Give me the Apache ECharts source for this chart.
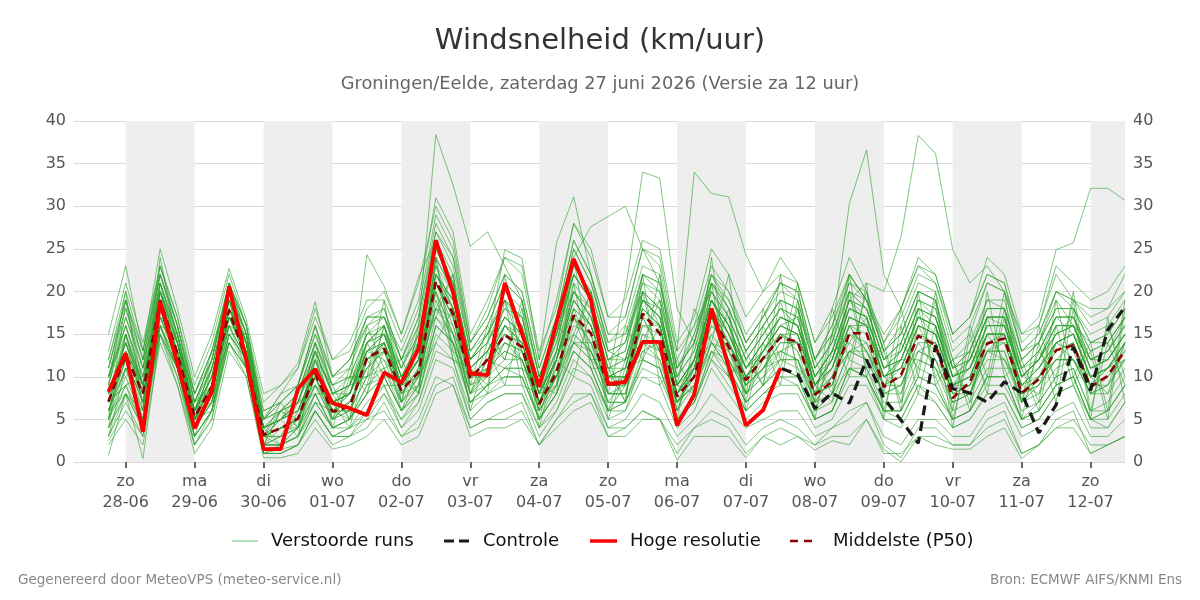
<!DOCTYPE html>
<html><head><meta charset="utf-8">
<script src="https://cdn.jsdelivr.net/npm/echarts@6/dist/echarts.min.js"></script>
<style>html,body{margin:0;padding:0;background:#fff}#c{width:1200px;height:600px}</style>
</head><body><div id="c"></div>
<script>
// time axis in hours since 27-06 00:00
const stepHours = [18,24,30,36,42,48,54,60,66,72,78,84,90,96,102,108,114,120,126,132,138,144,150,156,162,168,174,180,186,192,198,204,210,216,222,228,234,240,246,252,258,264,270,276,282,288,294,300,306,312,318,324,330,336,342,348,354,360,366,372];
const dayHours = [24,48,72,96,120,144,168,192,216,240,264,288,312,336,360];
const dayNames = ['zo','ma','di','wo','do','vr','za','zo','ma','di','wo','do','vr','za','zo'];
const dayDates = ['28-06','29-06','30-06','01-07','02-07','03-07','04-07','05-07','06-07','07-07','08-07','09-07','10-07','11-07','12-07'];
const shadedDays = [24,72,120,168,216,264,312,360];
const legendNames = ['Verstoorde runs','Controle','Hoge resolutie','Middelste (P50)'];

const hres = [8.25,12.75,3.55,18.8,11.6,3.95,8.25,20.6,12,1.5,1.5,8.6,10.9,6.9,6.3,5.5,10.5,9.3,13.3,26.0,19.9,10.4,10.2,21.0,15.1,8.8,16.3,23.8,19.0,9.15,9.4,14.1,14.1,4.3,7.9,18.0,11.2,4.3,6.1,11.0];
const control = [8.25,12.75,3.55,18.8,11.6,3.95,8.25,20.6,12,1.5,1.5,8.6,10.9,6.9,6.3,5.5,10.5,9.3,13.3,26.0,19.9,10.4,10.2,21.0,15.1,8.8,16.3,23.8,19.0,9.15,9.4,14.1,14.1,4.3,7.9,18.0,11.2,4.3,6.1,11.0,10.3,6.3,8.1,6.9,12.0,7.5,4.9,2.2,13.7,8.6,8.1,7.0,9.4,8.1,3.4,6.7,13.5,8.4,15.5,18.2];
const median = [7.1,12.55,8.05,19.0,12.75,5.3,8.8,17.8,12,3.2,3.95,5.1,10.4,5.9,6.5,12.2,13.3,8.4,10.5,21.2,17.4,9.8,12,14.9,13.5,6.8,10.5,17.2,15.1,8.9,9.4,17.4,15.1,7.7,10.0,17.4,13.5,9.6,12.2,14.6,14.1,7.9,9.4,15.1,15.1,8.8,10.2,14.8,13.7,7.5,9.4,13.9,14.5,8.1,9.7,13.1,13.7,8.8,10.1,13.1];

const run01 = [10,16,9,20,14,6,10,19,14,4,5,7,12,7,8, 13,15,9,12,24,20,11,13,17,15,8,12,20,17,10, 11,19,17,9,12,19,16,11,14,17,16,10,13,19,21, 20,26.4,38.3,36.2,24.9,21,23,20,15,17,24.9,25.7,32.1,32.1,30.7];
const run02 = [8,14,9,21,15,7,11,20,15,4,6,8,14,8,9, 15,17,11,16,38.4,32.5,25.3,27,23,19,10,15,22,19,12, 14,22,20,10,15,21,18,13,16,19,18,12,15,20,18, 12,14,19,17,10,12,17,16,11,12,17,15,12,13,17];
const run03 = [6,12,7,18,13,5,8,17,13,3,4,5,10,6,7, 12,13,8,10,21,17,10,12,15,14,7,12,18,16,10, 20,34,33.3,18,14,22,20,14,17,21,19,11,14,22,19, 13,15,20,19,11,13,18,18,12,14,19,16,14,15,18];
const run04 = [9,17,11,22,16,7,12,21,16,5,7,9,15,10,12, 17,18,12,17,28,24,14,17,22,20,11,17,26,22,15, 17,25,24,13,34,31.5,31.1,24.3,20,22,21,14,17,22,19, 15,18,23,22,15,17,22,21,14,16,22,19,18,18,20];
const run05 = [7,13,8,19,13,5,9,18,14,3,4,5,10,6,6, 12,14,8,11,22,18,10,12,16,14,7,11,17,15,9, 9,18,16,8,11,18,14,10,12,15,14,8,15,30.3,36.6, 22,18,24,22,15,17,22,21,13,15,20,19,17,18,22];
const run06 = [0.8,8,0.4,15,10,2,6,14,11,1,1,2,6,3,3, 5,8,4,6,12,11,5,7,8,8,3,6,10,9,4, 5,8,7,3,5,8,6,4,5,6,6,3,4,6,7, 3,2,5,5,3,3,6,7,3,4,6,7,3,3,5];
const run07 = [3,7,3,16,11,3,6,15,12,1,1,2,5,2,3, 4,7,3,5,10,9,4,5,6,7,2,5,7,8,3, 3,5,5,1,4,6,5,2,4,5,4,2,4,5,7, 2,0.5,4,4,2,2,5,6,1,2,5,6,1,2,3];
const run08 = [7,9,11,17,14,6,7,20,12,2,6,4,13,4,10, 9,16,7,14,17,22,8,14,12,18,5,13,15,20,6, 12,14,19,6,12,15,17,7,16,11,18,6,13,14,17, 6,14,11,19,5,13,9,18,7,13,10,19,6,14,9];
const run09 = [10,17,11,21,14,6,11,19,14,4,5,7,13,8,9, 14,16,10,14,25,21,12,14,19,16,9,14,22,19,12, 13,21,20,10,13,21,17,12,15,18,17,10,13,19,18, 12,14,19,18,11,13,18,18,11,13,17,17,13,14,17];
const run10 = [5,10,5,17,12,4,7,16,12,2,2,4,8,4,5, 8,10,6,8,16,14,7,9,10,10,5,8,13,11,6, 7,11,10,5,7,12,9,6,8,9,9,5,6,10,10, 5,5,9,8,5,6,9,9,5,6,9,10,5,5,8];
const run11 = [12,20,13,23,16,8,13,21,15,6,7,9,16,10,12, 17,17,13,18,29,25,14,17,22,20,11,17,26,22,15, 15,20,16,7,9,14,11,7,9,11,10,6,8,11,10, 6,5,9,7,4,5,8,8,4,5,8,9,5,4,7];
const run12 = [3,8,4,16,11,3,6,15,12,1,2,3,6,3,4, 6,8,5,7,14,12,6,8,9,9,4,7,12,10,6, 9,17,19,11,14,21,19,14,17,21,20,12,16,21,20, 14,18,23,21,15,17,24,22,15,16,23,21,19,20,23];
const run13 = [10,12,6,21,12,4,11,16,15,3,3,7,8,8,5, 14,10,10,8,24,13,11,9,19,9,8,9,21,11,11, 7,20,11,9,8,21,10,12,9,19,11,9,7,20,11, 13,7,18,10,12,6,17,11,11,6,16,9,13,5,18];
const run14 = [6,11,6,18,12,4,8,17,13,2,3,4,9,5,6, 13,14,9,12,22,19,11,13,16,15,8,12,19,16,10, 10,19,17,9,11,19,15,11,13,16,15,9,11,17,16, 10,11,16,15,9,10,15,15,9,11,14,15,10,11,14];
const run15 = [4,15,7,16,15,5,6,18,12,4,2,6,11,7,4, 12,9,9,10,14,18,6,13,9,16,4,12,10,18,5, 11,12,16,5,14,12,18,6,14,9,19,5,15,10,21, 5,16,8,16,4,15,8,17,5,14,7,18,5,17,7];
const run16 = [11,18,12,22,15,7,12,20,15,5,6,8,14,9,10, 15,15,11,15,26,22,13,15,20,18,10,15,23,20,13, 12,20,18,9,12,20,16,11,14,17,16,9,12,18,17, 11,12,17,16,10,11,16,16,10,12,16,16,11,12,15];
const run17 = [8,12,7,19,13,5,9,18,13,3,4,5,11,6,7, 11,14,8,11,21,17,9,11,14,13,7,10,17,14,9, 9,16,15,7,10,17,13,9,11,14,14,8,9,15,14, 9,10,15,14,8,9,14,14,8,10,13,14,9,10,13];
const run18 = [5,19,9,20,12,6,13,20,12,5,8,11,17,12,13, 18,20,15,21,30,26,14,18,24,23,13,18,28,24,17, 19,26,25,14,17,25,22,17,20,24,21,14,18,24,20, 13,16,21,20,13,15,21,20,13,14,20,18,15,16,19];
const run19 = [2.5,6,3,15,11,2,5,15,11,1,1,2,6,3,3, 6,9,4,7,13,12,5,7,8,8,4,6,11,10,5, 6,10,9,4,6,11,8,5,7,8,8,4,5,9,9, 5,4,8,7,4,5,8,8,4,5,8,9,4,4,7];
const run20 = [13,21,14,23,17,9,14,22,16,7,9,11,18,12,14, 19,19,14,19,31,27,15,19,24,22,12,19,28,25,17, 17,25,23,12,16,23,20,15,18,21,20,12,16,22,19, 14,17,22,21,14,16,21,20,13,15,20,19,16,17,20];
const run21 = [15,23,13,25,18,10,15,22.7,16.7,8,9,11.6,18.8,10,12, 16,18,12,14,25,21,12,14,18,17,9,14,22,19,12, 13,22,21,11,14,22,18,13,16,19,18,11,14,20,18, 12,14,19,18,11,13,18,18,11,13,17,17,13,14,17];
const run22 = [8,13,4,19,11,7,9,16,14,3,5,3,12,5,9, 10,14,6,11,20,12,10,10,16,13,7,9,18,13,8, 9,17,13,8,12,17,11,10,13,15,13,9,11,16,13, 10,8,16,12,9,9,15,12,9,8,14,12,10,8,14];
const run23 = [9,16,10,20,15,6,10,19,14,4,5,7,13,8,9, 14,16,10,13,23,20,12,14,18,16,9,13,21,18,11, 12,18,16,8,11,18,15,10,13,16,15,9,11,17,16, 10,12,17,16,10,11,16,16,10,12,15,16,11,12,15];
const run24 = [4,8,5,17,12,4,7,16,12,2,3,4,8,4,5, 9,11,6,9,17,15,8,9,11,11,5,9,14,12,7, 7,13,12,5,8,14,11,7,9,12,11,6,7,12,11, 7,7,12,11,6,7,11,11,6,7,10,11,6,7,10];
const run25 = [10,18,11,21,15,6,11,20,15,4,6,7,13,8,9, 13,14,9,12,22,19,11,13,17,15,8,12,20,17,11, 11,19,18,9,12,19,16,11,14,17,16,10,12,18,17, 11,13,18,17,11,12,17,17,10,12,16,16,12,13,16];
const run26 = [5,11,9,18,13,4,8,19,11,2,4,5,10,5,7, 11,13,9,12,18,17,10,11,15,12,7,10,17,12,10, 9,15,14,8,10,16,14,9,11,14,14,8,9,15,13, 9,9,14,14,8,8,13,15,8,9,12,14,9,11,13];
const run27 = [2,5,2,14,9,1,4,13,10,0.5,0.5,1,4,1.5,2, 3,5,2,3,8,9,3,4,4,5,2,4,6,7,3, 4,6,5,2,4,5,4,1,3,4,3,2,3,3,5, 1,1,3,3,2,2,4,5,1,2,4,5,2,2,3];
const run28 = [11,19,12,22,16,8,12,21,16,5,7,9,15,9,11, 16,17,12,16,27,23,13,16,21,19,10,16,25,21,14, 16,23,22,11,15,22,19,14,17,20,19,12,15,21,19, 13,15,20,19,12,14,19,19,12,14,18,18,14,15,18];
const run29 = [6,8,6,18,11,5,7,17,14,3,2,4,7,6,5, 8,13,7,9,19,14,8,12,11,13,6,10,14,14,7, 10,13,14,6,11,14,13,8,11,12,12,7,10,14,12, 8,9,14,11,7,8,13,13,7,10,12,12,8,9,12];
const run30 = [8,14,9,20,14,6,10,18,14,4,5,6,11,7,8, 13,15,9,12,22,18,10,12,16,14,8,12,18,16,10, 10,17,16,8,10,17,14,10,12,15,14,8,10,16,15, 10,11,16,15,9,10,15,15,9,10,14,15,10,11,14];
const run31 = [12,10,12,18,14,8,13,15,15,5,8,9,16,8,10, 10,19,7,16,18,22,9,16,12,19,6,16,14,20,8, 16,12,22,9,18,14,22,8,18,12,21,7,18,12,20, 8,18,10,20,6,16,10,20,7,16,9,20,8,16,10];
const run32 = [5,15,8,16,12,3,9,14,11,2,6,5,12,9,5, 16,11,12,8,24,12,11,8,22,11,9,8,24,12,12, 7,22,9,12,8,24,10,13,9,22,10,12,8,22,10, 14,6,20,9,12,7,20,10,12,7,19,10,14,6,19];
const run33 = [7,9,10,18,11,6,8,19,12,3,6,7,9,7,8, 14,15,10,12,17,14,10,11,13,12,7,11,14,13,9, 10,14,12,7,9,13,12,9,11,13,12,8,10,13,12, 9,12,12,11,9,10,13,12,8,10,12,12,9,11,12];
const run34 = [9,20,6,24,14,5,12,21,14,3,7,4,14,5,11, 8,16,9,15,20,15,12,15,19,13,8,15,20,18,11, 9,20,18,7,11,19,16,9,13,16,17,9,12,19,16, 11,13,18,16,9,12,17,17,10,11,15,17,12,12,15];
const run35 = [7,12,5,18,13,4,9,17,13,3,4,4,10,5,7, 11,13,8,9,20,15,9,10,14,12,7,10,16,15,8, 8,17,13,7,10,17,13,9,11,15,13,7,10,13,14, 9,11,13,14,8,9,13,14,8,9,14,13,8,10,12];
const run36 = [10,16,10,21,15,6,11,20,14,4,5,8,13,8,8, 14,15,10,13,23,18,11,13,17,15,8,13,20,17,11, 12,19,17,9,12,19,15,11,13,17,16,9,12,18,17, 11,12,17,16,10,11,16,16,10,12,15,16,11,12,15];
const run37 = [3,11,5,16,10,3,6,14,11,2,2,3,7,4,4, 7,9,5,8,15,13,7,8,10,10,5,8,13,11,6, 6,12,11,5,7,13,10,6,8,10,9,5,6,11,10, 6,6,10,9,5,6,10,10,5,6,9,10,5,6,9];
const run38 = [7,15,9,19,13,6,9,18,14,4,5,6,11,7,8, 12,14,9,12,21,18,10,12,16,14,7,12,19,16,10, 11,18,16,8,11,18,15,10,13,16,15,8,11,17,16, 10,11,16,15,9,10,15,15,9,11,14,15,10,11,14];
const run39 = [8,14,7,20,12,5,9,18,14,3,4,5,11,6,8, 13,12,9,10,21,16,10,12,14,13,7,12,17,14,10, 10,16,16,8,11,16,14,8,12,13,14,8,9,16,13, 9,10,15,13,9,8,14,15,8,10,13,14,9,9,14];
const run40 = [4,9,5,15,11,4,7,15,12,2,2,3,8,4,5, 8,10,6,9,16,14,7,9,11,11,5,8,14,12,7, 7,12,11,5,7,13,11,7,9,11,10,5,6,11,11, 6,6,11,10,5,6,10,10,5,7,10,11,6,6,9];
const run41 = [11,19,13,22,16,7,12,21,15,5,6,8,14,9,10, 15,16,11,15,25,21,12,15,19,17,9,15,23,20,13, 14,21,19,10,13,20,17,12,15,18,17,10,13,19,18, 12,13,18,17,11,12,17,17,11,13,17,17,12,13,16];
const run42 = [6,11,8,17,12,5,8,17,13,3,4,5,9,6,6, 10,12,7,10,18,16,8,11,13,12,6,10,15,13,8, 8,15,13,7,9,15,12,8,10,12,12,7,8,13,13, 8,9,13,12,7,8,13,13,7,9,12,12,8,9,12];
const run43 = [6,12,7,18,12,4,8,17,12,3,3,5,9,5,6, 10,11,7,10,18,15,8,10,12,12,6,9,15,13,8, 8,14,13,6,9,14,12,8,10,13,12,6,8,13,12, 8,8,13,12,7,8,12,12,7,8,11,12,8,8,11];
const run44 = [10,15,9,20,14,6,10,19,14,4,5,7,12,7,8, 13,15,9,12,22,19,11,13,17,15,8,12,19,16,10, 11,18,16,8,11,18,14,10,12,15,15,9,11,16,16, 10,11,16,15,9,11,15,15,9,11,14,15,10,11,14];
const run45 = [5,9,4,16,11,3,6,16,11,2,2,3,7,4,5, 9,10,6,8,16,14,7,9,11,10,5,8,13,11,6, 7,12,11,5,7,12,10,6,8,10,10,5,6,11,10, 6,6,10,9,5,6,10,10,5,6,9,10,5,6,9];
const run46 = [12,19,12,23,17,8,13,21,16,6,7,9,16,10,11, 17,17,12,17,27,24,13,16,21,19,10,16,25,21,14, 15,22,21,11,14,21,18,13,16,19,18,11,14,20,19, 13,15,20,19,12,13,19,18,12,14,18,18,14,14,17];
const run47 = [7,14,8,19,14,6,9,18,14,3,5,6,11,6,8, 12,14,9,12,21,17,10,12,15,14,8,13,24,27.6,28.8, 30,25,21,13,16,20,17,12,15,18,16,10,13,19,17, 11,13,18,17,10,12,17,17,10,12,16,16,12,13,16];
const run48 = [8,15,9,20,14,5,10,19,14,4,5,6,11,7,8, 14,16,10,14,24,20,12,14,24.9,23.9,12,25.7,31.1,22,13, 14,20,18,9,12,19,16,11,14,17,16,9,12,18,17, 11,12,17,16,10,11,16,16,10,12,15,16,11,12,15];
const run49 = [6,13,9,18,13,5,9,17,13,3,4,5,11,7,9, 24.3,20.6,15,21.7,26,21,12,15,19,17,9,15,22,19,12, 12,19,17,8,12,19,15,10,13,16,15,9,12,17,16, 10,12,17,15,9,10,15,15,9,11,14,15,10,11,14];
const run50 = [4,8,4,15,9,2,5,14,10,1,1.5,2,6,3,4, 5,6,3,4,9,10,4,5,5,6,2,5,8,8,4, 4,6,5,0.2,3,3,3,0.5,3,2,3,1.4,2.5,2,5, 1.5,0,3,2,1.5,1.5,3,4,0.4,2,4,4,1,2,3];

const runs = [run01,run02,run03,run04,run05,run06,run07,run08,run09,run10,run11,run12,run13,run14,run15,run16,run17,run18,run19,run20,run21,run22,run23,run24,run25,run26,run27,run28,run29,run30,run31,run32,run33,run34,run35,run36,run37,run38,run39,run40,run41,run42,run43,run44,run45,run46,run47,run48,run49,run50];

const FONT = 'DejaVu Sans';
const toPts = arr => arr.map((v, i) => [stepHours[i], v]);

const series = [];
series.push({
  type: 'line', data: [], silent: true, z: -1,
  markArea: { silent: true, itemStyle: { color: '#eeeeee' },
    data: shadedDays.map(s => [{ xAxis: s }, { xAxis: Math.min(s + 24, 372) }]) }
});
runs.forEach(r => series.push({
  type: 'line', name: legendNames[0], data: toPts(r), symbol: 'none', silent: true,
  lineStyle: { width: 1, color: '#2ca02c', opacity: 0.6 }, z: 2
}));
series.push({ type: 'line', name: legendNames[3], data: toPts(median), symbol: 'none', silent: true,
  lineStyle: { width: 2.6, color: '#8b0000', type: [8, 5] }, z: 3 });
series.push({ type: 'line', name: legendNames[1], data: toPts(control), symbol: 'none', silent: true,
  lineStyle: { width: 3.2, color: '#1a1a1a', type: [10, 6] }, z: 4 });
series.push({ type: 'line', name: legendNames[2], data: toPts(hres), symbol: 'none', silent: true,
  lineStyle: { width: 3.8, color: '#ff0000' }, z: 5 });

// legend drawn as graphic elements (line icons without symbols)
const LY = 541;
const legendIcons = [
  { x1: 232, x2: 258, stroke: '#7fcf8a', width: 1.2, dash: null, tx: 271 },
  { x1: 444, x2: 470, stroke: '#1a1a1a', width: 3, dash: [10, 5], tx: 483 },
  { x1: 590, x2: 617, stroke: '#ff0000', width: 3.5, dash: null, tx: 630 },
  { x1: 790, x2: 813, stroke: '#8b0000', width: 2.6, dash: [8, 6], tx: 833 }
];
const graphics = [];
legendIcons.forEach((it, k) => {
  graphics.push({ type: 'line', silent: true, shape: { x1: it.x1, y1: LY, x2: it.x2, y2: LY },
    style: { stroke: it.stroke, lineWidth: it.width, lineDash: it.dash } });
  graphics.push({ type: 'text', silent: true, x: it.tx, y: LY,
    style: { text: legendNames[k], font: '18px "DejaVu Sans"', fill: '#111', verticalAlign: 'middle', align: 'left' } });
});

const chart = echarts.init(document.getElementById('c'), null, { renderer: 'canvas' });
chart.setOption({
  animation: false,
  backgroundColor: '#ffffff',
  textStyle: { fontFamily: FONT },
  title: [
    { text: 'Windsnelheid (km/uur)', left: 'center', top: 27, padding: 0, textStyle: { fontFamily: FONT, fontSize: 29, fontWeight: 'normal', color: '#333' } },
    { text: 'Groningen/Eelde, zaterdag 27 juni 2026 (Versie za 12 uur)', left: 'center', top: 75, padding: 0, textStyle: { fontFamily: FONT, fontSize: 17.8, fontWeight: 'normal', color: '#666' } },
    { text: 'Gegenereerd door MeteoVPS (meteo-service.nl)', left: 18, top: 573, padding: 0, textStyle: { fontFamily: FONT, fontSize: 13.5, fontWeight: 'normal', color: '#888' } },
    { text: 'Bron: ECMWF AIFS/KNMI Ens', right: 18, top: 573, padding: 0, textStyle: { fontFamily: FONT, fontSize: 13.5, fontWeight: 'normal', color: '#888' } }
  ],
  grid: { left: 74, right: 75, top: 121, bottom: 138, containLabel: false },
  xAxis: {
    type: 'value', min: 6, max: 372,
    axisLine: { show: false },
    splitLine: { show: false },
    axisTick: { show: true, length: 6, lineStyle: { color: '#666', width: 2 }, customValues: dayHours },
    axisLabel: {
      customValues: dayHours, margin: 9, fontFamily: FONT, fontSize: 16, color: '#555', lineHeight: 21,
      formatter: v => { const k = dayHours.indexOf(v); return k < 0 ? '' : dayNames[k] + '\n' + dayDates[k]; }
    }
  },
  yAxis: [
    { type: 'value', min: 0, max: 40, interval: 5, position: 'left',
      axisLine: { show: false }, axisTick: { show: false },
      splitLine: { lineStyle: { color: '#d9d9d9', width: 1 } },
      axisLabel: { margin: 8, fontFamily: FONT, fontSize: 16, color: '#555' } },
    { type: 'value', min: 0, max: 40, interval: 5, position: 'right',
      axisLine: { show: false }, axisTick: { show: false }, splitLine: { show: false },
      axisLabel: { margin: 8, fontFamily: FONT, fontSize: 16, color: '#555' } }
  ],
  graphic: graphics,
  series: series
});
</script>
</body></html>
